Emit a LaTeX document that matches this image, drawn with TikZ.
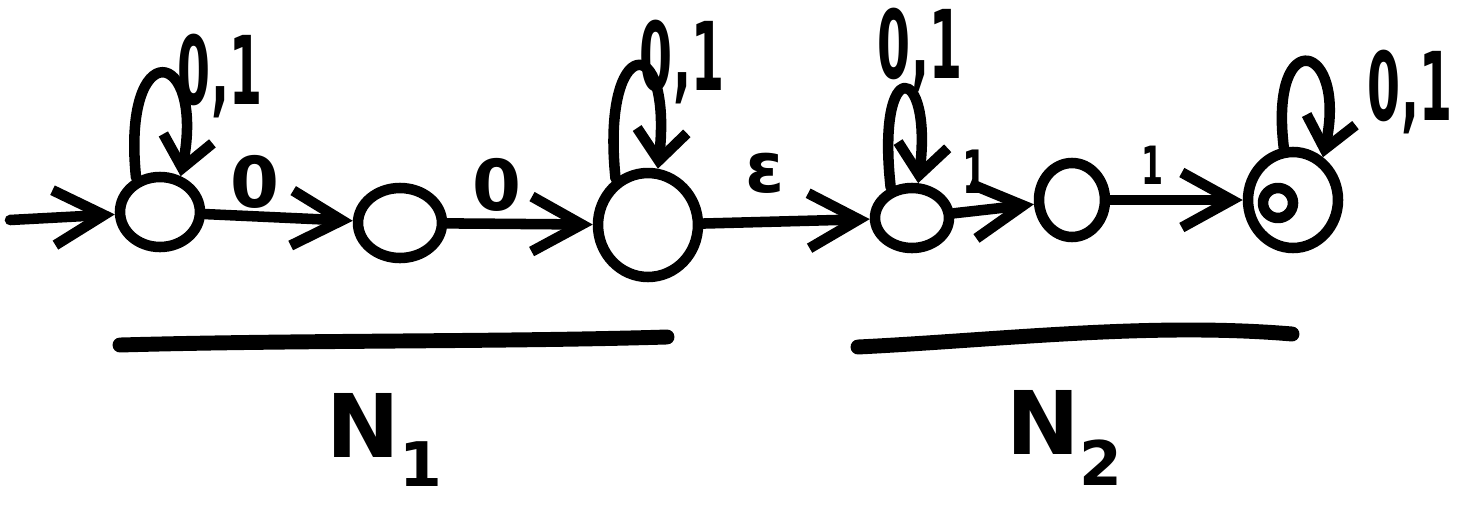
\documentclass[tikz,border=0pt]{standalone}
\usepackage{fontspec}
\setmainfont{DejaVu Sans}
\usetikzlibrary{arrows.meta,shapes.geometric}
\begin{document}
\begin{tikzpicture}[x=0.02cm,y=-0.02cm,
  ink/.style={line width=6pt, line cap=round, line join=round},
  state/.style={ellipse, draw, ink, inner sep=0pt},
  edge/.style={ink, -{Straight Barb[length=10mm,width=11mm]}},
  loopedge/.style={ink, -{Straight Barb[length=6mm,width=10mm]}},
  lbl/.style={font=\bfseries\fontsize{40}{40}\selectfont, inner sep=0pt},
  onelbl/.style={font=\bfseries\fontsize{30}{30}\selectfont, inner sep=0pt, xscale=0.6},
  looplbl/.style={font=\bfseries\fontsize{54}{54}\selectfont, inner sep=0pt, xscale=0.5},
  netlbl/.style={font=\bfseries\fontsize{50}{50}\selectfont, inner sep=2pt},
  bar/.style={line width=8.5pt, line cap=round}]
\useasboundingbox (0,0) rectangle (1457,504);

% states
\node[state, minimum width=1.6cm, minimum height=1.4cm] (q1) at (160,212) {};
\node[state, minimum width=1.68cm, minimum height=1.4cm] (q2) at (400,223) {};
\node[state, minimum width=2.0cm, minimum height=2.08cm] (q3) at (648,225) {};
\node[state, minimum width=1.48cm, minimum height=1.2cm] (q4) at (912,218) {};
\node[state, minimum width=1.32cm, minimum height=1.48cm] (q5) at (1072,200) {};
\node[state, minimum width=1.8cm, minimum height=1.92cm] (q6) at (1293,200) {};
\node[state, minimum width=0.6cm, minimum height=0.6cm] (q6in) at (1278,203) {};

% initial arrow
\coordinate (start) at (10,220);
\draw[edge] (start) -- (q1);

% transitions
\draw[edge] (q1) -- (q2);
\draw[edge] (q2) -- (q3);
\draw[edge] (q3) -- (q4);
\draw[edge] (q4) -- (q5);
\draw[edge] (q5) -- (q6);

% self loops
\draw[loopedge] (q1.125) .. controls +(-15,-145) and +(25,-130) .. (q1.60);
\draw[loopedge] (q3.125) .. controls +(-15,-145) and +(15,-140) .. (q3.80);
\draw[loopedge] (q4.125) .. controls +(-15,-135) and +(15,-120) .. (q4.80);
\draw[loopedge] (q6.100) .. controls +(-15,-125) and +(25,-115) .. (q6.55);

% edge labels
\node[lbl] (a01) at (255,182) {0};
\node[lbl] (a02) at (497,185) {0};
\node[lbl] (aeps) at (765,173) {ε};
\node[onelbl, font=\bfseries\fontsize{34}{34}\selectfont] (a1) at (975,172) {1};
\node[onelbl] (a2) at (1152,165) {1};

% loop labels
\node[looplbl] (l1) at (220,76) {0,1};
\node[looplbl] (l3) at (682,62) {0,1};
\node[looplbl] (l4) at (920,50) {0,1};
\node[looplbl] (l6) at (1410,92) {0,1};

% underlines
\coordinate (u1a) at (120,345);
\coordinate (u1b) at (667,337);
\draw[bar] (u1a) .. controls (300,340) and (500,342) .. (u1b);
\coordinate (u2a) at (858,347);
\coordinate (u2b) at (1292,334);
\draw[bar] (u2a) .. controls (1000,340) and (1150,322) .. (u2b);

% group labels
\node[netlbl] (n1) at (385,440) {N$_{\mathbf{1}}$};
\node[netlbl] (n2) at (1065,438) {N$_{\mathbf{2}}$};
\end{tikzpicture}
\end{document}
